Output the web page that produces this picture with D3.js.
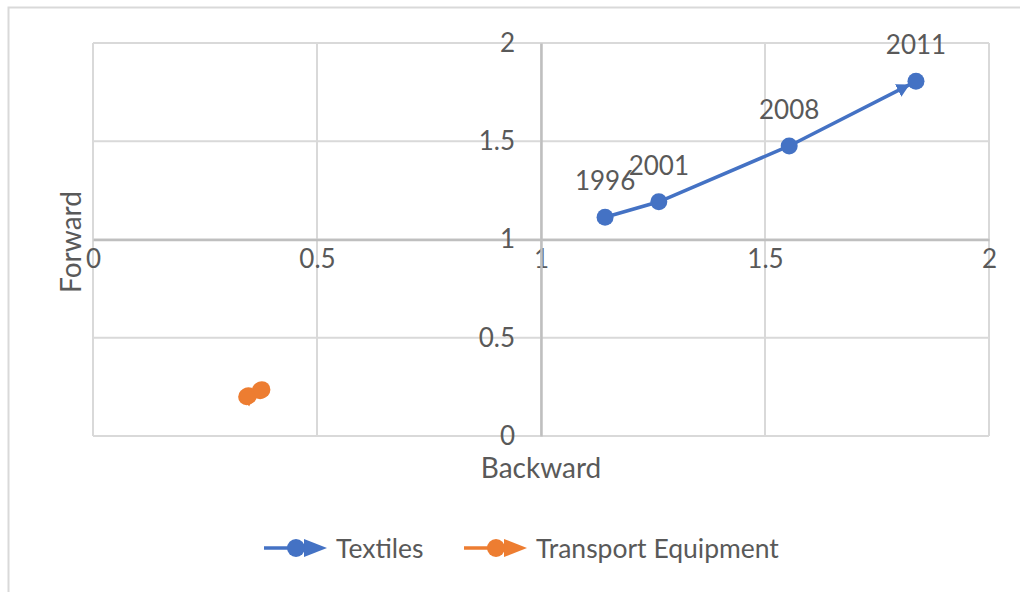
<!DOCTYPE html>
<html><head><meta charset="utf-8">
<script src="https://cdn.jsdelivr.net/npm/d3@7"></script>
<style>
html,body{margin:0;padding:0;background:#fff;}
text{font-family:Lato,"Open Sans",sans-serif;fill:#595959;}
</style></head>
<body><svg id="chart" width="1020" height="592"></svg>
<script>
// Data
const years = ["1996", "2001", "2008", "2011"];
const textilesBackward = [1.143, 1.263, 1.554, 1.837];
const textilesForward = [1.113, 1.192, 1.476, 1.805];
const transportBackward = [0.343, 0.347, 0.373, 0.377];
const transportForward = [0.200, 0.205, 0.230, 0.236];
const xTicks = [0, 0.5, 1, 1.5, 2];
const yTicks = [0, 0.5, 1, 1.5, 2];
const seriesNames = ["Textiles", "Transport Equipment"];
const colors = ["#4472C4", "#ED7D31"];

const svg = d3.select("#chart");
svg.append("rect").attr("x", 8.5).attr("y", 7.5).attr("width", 1030).attr("height", 600)
  .attr("fill", "#fff").attr("stroke", "#d9d9d9").attr("stroke-width", 2);

const x = d3.scaleLinear().domain([0, 2]).range([93, 989]);
const y = d3.scaleLinear().domain([0, 2]).range([436, 43]);

// gridlines
const g = svg.append("g");
g.selectAll(".vg").data(xTicks).join("line")
  .attr("x1", d => x(d)).attr("x2", d => x(d)).attr("y1", y(0)).attr("y2", y(2))
  .attr("stroke", "#d9d9d9").attr("stroke-width", 2);
g.selectAll(".hg").data(yTicks).join("line")
  .attr("y1", d => y(d)).attr("y2", d => y(d)).attr("x1", x(0)).attr("x2", x(2))
  .attr("stroke", "#d9d9d9").attr("stroke-width", 2);

// axes crossing at 1
const xAxis = d3.axisBottom(x).tickValues(xTicks).tickFormat(d3.format("")).tickSize(0).tickPadding(25);
const xa = svg.append("g").attr("transform", `translate(0,${y(1)})`).call(xAxis);
xa.select(".domain").attr("stroke", "#bfbfbf").attr("stroke-width", 2.5);
xa.selectAll("text").attr("font-size", 26).attr("font-family", "Lato").attr("fill", "#595959").attr("dy", "0.15em");

const yAxis = d3.axisLeft(y).tickValues(yTicks).tickFormat(d3.format("")).tickSize(0).tickPadding(26);
const ya = svg.append("g").attr("transform", `translate(${x(1)},0)`).call(yAxis);
ya.select(".domain").attr("stroke", "#bfbfbf").attr("stroke-width", 2.5);
ya.selectAll("text").attr("font-size", 26).attr("font-family", "Lato").attr("fill", "#595959");

// axis titles
svg.append("text").attr("x", 541).attr("y", 467).attr("text-anchor", "middle").attr("dominant-baseline", "central")
  .attr("font-size", 28).text("Backward");
svg.append("text").attr("transform", "translate(70,242) rotate(-90)").attr("text-anchor", "middle")
  .attr("dominant-baseline", "central").attr("font-size", 28).text("Forward");

// arrow markers
const defs = svg.append("defs");
colors.forEach((c, i) => {
  defs.append("marker").attr("id", "arr" + i).attr("markerUnits", "userSpaceOnUse")
    .attr("viewBox", "0 -8 24 16").attr("markerWidth", 24).attr("markerHeight", 16)
    .attr("refX", 20).attr("refY", 0).attr("orient", "auto")
    .append("path").attr("d", "M0,-7L13,0L0,7Z").attr("fill", c);
});

const line = d3.line().x(d => x(d[0])).y(d => y(d[1]));
const series = [
  d3.zip(textilesBackward, textilesForward),
  d3.zip(transportBackward, transportForward)
];
series.forEach((pts, i) => {
  svg.append("path").datum(pts).attr("d", line).attr("fill", "none")
    .attr("stroke", colors[i]).attr("stroke-width", 3.5).attr("marker-end", `url(#arr${i})`);
  svg.selectAll(".pt" + i).data(pts).join("circle")
    .attr("cx", d => x(d[0])).attr("cy", d => y(d[1])).attr("r", 8.5).attr("fill", colors[i]);
});

// year labels
svg.selectAll(".lbl").data(d3.zip(textilesBackward, textilesForward, years)).join("text")
  .attr("x", d => x(d[0])).attr("y", d => y(d[1]) - 37).attr("text-anchor", "middle")
  .attr("dominant-baseline", "central").attr("font-size", 26).text(d => d[2]);

// legend
const leg = [{x0: 264, tx: 336}, {x0: 464, tx: 536}];
leg.forEach((l, i) => {
  const gy = 548;
  const lg = svg.append("g");
  lg.append("line").attr("x1", l.x0).attr("x2", l.x0 + 46).attr("y1", gy).attr("y2", gy)
    .attr("stroke", colors[i]).attr("stroke-width", 3.5);
  lg.append("path").attr("d", `M${l.x0 + 40},${gy - 9}L${l.x0 + 63},${gy}L${l.x0 + 40},${gy + 9}Z`).attr("fill", colors[i]);
  lg.append("circle").attr("cx", l.x0 + 32).attr("cy", gy).attr("r", 9).attr("fill", colors[i]);
  lg.append("text").attr("x", l.tx).attr("y", gy).attr("dominant-baseline", "central")
    .attr("font-size", 26.5).text(seriesNames[i]);
});
</script></body></html>
